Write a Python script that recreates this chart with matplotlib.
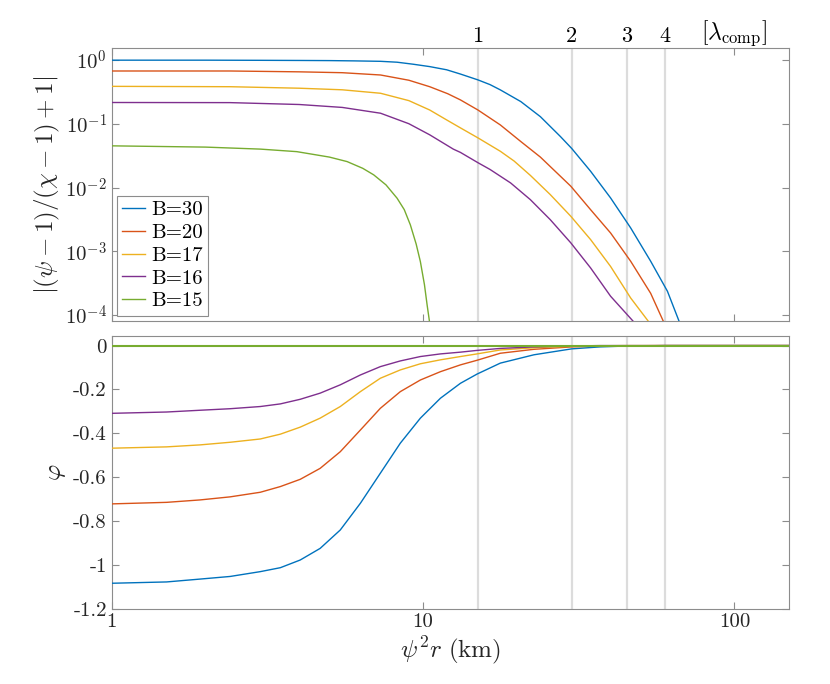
import math
import matplotlib
matplotlib.use("Agg")
import matplotlib.pyplot as plt
from matplotlib.ticker import FixedLocator, FuncFormatter, NullLocator

plt.rcParams['font.family'] = 'cmr10'
plt.rcParams['mathtext.fontset'] = 'cm'
plt.rcParams['axes.unicode_minus'] = False

# ---------------- data ----------------
labels = ['B=30', 'B=20', 'B=17', 'B=16', 'B=15']
colors = ['#0072BD', '#D95319', '#EDB120', '#7E2F8E', '#77AC30']

# top panel: |(psi-1)/(chi-1)+1|
x_top_b30 = [1, 2, 3, 4, 5, 6, 7.3, 8.25, 9.3, 10.5, 11.9, 13.18, 15, 16.4, 17.7, 20.6, 23.8,
             27.6, 30, 34.5, 40.0, 46.4, 53.8, 60.9, 66.4]
y_top_b30 = [0.99, 0.99, 0.985, 0.98, 0.975, 0.965, 0.95, 0.92, 0.855, 0.785, 0.70, 0.60, 0.486,
             0.41, 0.339, 0.222, 0.129, 0.063, 0.041, 0.018, 0.00687, 0.00233, 0.0007, 0.000237,
             0.00008]
x_top_b20 = [1, 2.4, 4, 5.5, 7.3, 9, 10.5, 12.0, 13.18, 15, 17.7, 20.6, 23.8, 29.8, 34.5, 40.0,
             46.4, 53.8, 59.1]
y_top_b20 = [0.67, 0.67, 0.65, 0.63, 0.58, 0.48, 0.38, 0.295, 0.236, 0.164, 0.0957, 0.0525,
             0.030, 0.0105, 0.0045, 0.00194, 0.0007, 0.00022, 0.00008]
x_top_b17 = [1, 2.4, 4, 5.5, 7.3, 9, 10.5, 12.0, 13.18, 15, 17.7, 19.6, 22.1, 25.6, 29.8, 34.5,
             40.0, 46.4, 52.9]
y_top_b17 = [0.385, 0.38, 0.36, 0.34, 0.30, 0.23, 0.164, 0.112, 0.086, 0.060, 0.037, 0.026,
             0.0155, 0.00776, 0.00355, 0.00153, 0.00058, 0.000186, 0.00008]
x_top_b16 = [1, 2.4, 4, 5.5, 7.3, 9, 10.5, 12.5, 13.18, 15, 16.4, 19.1, 22.1, 25.6, 29.8, 34.5,
             40.0, 47.3]
y_top_b16 = [0.215, 0.214, 0.20, 0.18, 0.146, 0.10, 0.067, 0.040, 0.0355, 0.0245, 0.0192,
             0.0118, 0.00646, 0.00314, 0.00136, 0.00055, 0.000198, 0.00008]
x_top_b15 = [1, 2, 3, 3.93, 5.0, 5.7, 6.4, 6.94, 7.6, 8.25, 8.7, 9.1, 9.5, 9.8, 10.1, 10.3, 10.48]
y_top_b15 = [0.045, 0.043, 0.040, 0.0365, 0.030, 0.0255, 0.020, 0.0158, 0.011, 0.0068, 0.0045,
             0.0026, 0.0013, 0.00069, 0.00030, 0.000145, 0.00008]

# bottom panel: varphi
x_bot = [1, 1.5, 1.92, 2.4, 3.0, 3.48, 4.03, 4.67, 5.42, 6.29, 7.29, 8.45, 9.8, 11.37, 13.18,
         14.9, 17.7, 22.7, 30, 37, 45, 60, 150]
y_bot_b30 = [-1.084, -1.078, -1.065, -1.053, -1.031, -1.013, -0.978, -0.925, -0.841, -0.719,
             -0.582, -0.445, -0.331, -0.24, -0.172, -0.13, -0.08, -0.042, -0.015, -0.006,
             -0.002, 0, 0]
y_bot_b20 = [-0.722, -0.715, -0.704, -0.69, -0.669, -0.643, -0.61, -0.56, -0.484, -0.385,
             -0.286, -0.21, -0.157, -0.119, -0.088, -0.067, -0.035, -0.017, -0.006, -0.002,
             -0.001, 0, 0]
y_bot_b17 = [-0.468, -0.462, -0.453, -0.441, -0.426, -0.404, -0.372, -0.331, -0.278, -0.21,
             -0.149, -0.111, -0.083, -0.065, -0.05, -0.038, -0.02, -0.01, -0.003, -0.001,
             0, 0, 0]
y_bot_b16 = [-0.309, -0.303, -0.295, -0.288, -0.278, -0.266, -0.245, -0.217, -0.179, -0.134,
             -0.096, -0.07, -0.05, -0.038, -0.03, -0.022, -0.013, -0.006, -0.002, 0,
             0, 0, 0]
y_bot_b15 = [0] * len(x_bot)

# reference lines in units of lambda_comp
lam_x = [15, 30, 45, 60]
lam_labels = ['1', '2', '3', '4']

x_ticks = [1, 10, 100]
top_yticks = [1e-4, 1e-3, 1e-2, 1e-1, 1e0]
bot_yticks = [-1.2, -1.0, -0.8, -0.6, -0.4, -0.2, 0]

# ---------------- figure ----------------
fig = plt.figure(figsize=(8.3, 6.84), dpi=100)
ax1 = fig.add_axes([0.1346, 0.5307, 0.8164, 0.3987])
ax2 = fig.add_axes([0.1346, 0.1101, 0.8164, 0.3991])

frame_col = '#8c8c8c'
text_col = '#262626'
ref_col = '#dcdcdc'

tops = [(x_top_b30, y_top_b30), (x_top_b20, y_top_b20), (x_top_b17, y_top_b17),
        (x_top_b16, y_top_b16), (x_top_b15, y_top_b15)]
bots = [y_bot_b30, y_bot_b20, y_bot_b17, y_bot_b16, y_bot_b15]

for ax in (ax1, ax2):
    for xv in lam_x:
        ax.axvline(xv, color=ref_col, lw=1.6, zorder=1)

for (xs, ys), c, lab in zip(tops, colors, labels):
    ax1.plot(xs, ys, color=c, lw=1.0, label=lab, zorder=3)
for ys, c in zip(bots, colors):
    ax2.plot(x_bot, ys, color=c, lw=1.0 if c != '#77AC30' else 1.5, zorder=3)

for ax in (ax1, ax2):
    ax.set_xscale('log')
    ax.set_xlim(1, 150)
    ax.xaxis.set_major_locator(FixedLocator(x_ticks))
    ax.xaxis.set_minor_locator(NullLocator())
    ax.tick_params(which='both', direction='in', top=True, right=True, length=5,
                   width=0.8, color=frame_col, labelsize=15, labelcolor=text_col)
    for s in ax.spines.values():
        s.set_color(frame_col)
        s.set_linewidth(0.8)

ax1.set_yscale('log')
ax1.set_ylim(8.1e-5, 1.52)
ax1.yaxis.set_major_locator(FixedLocator(top_yticks))
ax1.yaxis.set_minor_locator(NullLocator())
ax1.yaxis.set_major_formatter(FuncFormatter(lambda v, p: r'$10^{%d}$' % round(math.log10(v))))
ax1.set_xticklabels([])
ax1.set_ylabel(r'$|(\psi-1)/(\chi-1)+1|$', fontsize=18, color=text_col, labelpad=2)

ax2.set_ylim(-1.2, 0.045)
ax2.yaxis.set_major_locator(FixedLocator(bot_yticks))
ax2.yaxis.set_major_formatter(FuncFormatter(lambda v, p: ('%g' % round(v, 1)) if abs(v) > 1e-9 else '0'))
ax2.xaxis.set_major_formatter(FuncFormatter(lambda v, p: '%d' % round(v)))
ax2.set_xlabel(r'$\psi^2 r\ \mathrm{(km)}$', fontsize=18, color=text_col, labelpad=2)
ax2.set_ylabel(r'$\varphi$', fontsize=18, color=text_col, labelpad=4)

# top labels for lambda_comp lines
for xv, t in zip(lam_x, lam_labels):
    ax1.text(xv, 1.008, t, transform=ax1.get_xaxis_transform(), ha='center', va='bottom',
             fontsize=16, color='black')
ax1.text(100, 1.0, r'$[\lambda_{\mathrm{comp}}]$', transform=ax1.get_xaxis_transform(),
         ha='center', va='bottom', fontsize=17, color='black')

leg = ax1.legend(loc='lower left', bbox_to_anchor=(0.008, 0.02), fontsize=15, frameon=True,
                 fancybox=False, edgecolor=frame_col, framealpha=1, borderpad=0.25,
                 labelspacing=0.2, handlelength=1.1, handletextpad=0.3, borderaxespad=0)
leg.get_frame().set_linewidth(0.8)

fig.savefig('out.png', dpi=100)
